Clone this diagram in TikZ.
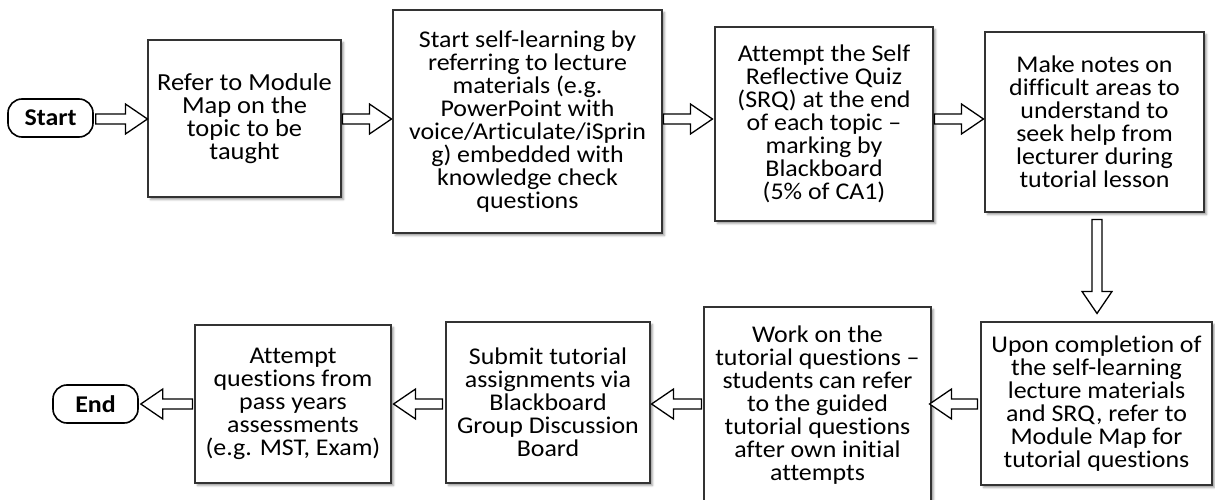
\documentclass[tikz,border=0pt]{standalone}
\usepackage{fontspec}
\setmainfont{Carlito}[FakeStretch=1.08,Ligatures={NoCommon}]
\usetikzlibrary{calc,shadows.blur}
\tikzset{
  box/.style={draw=black!80, line width=1.1pt, fill=white, align=center, inner sep=0pt,
    font=\fontsize{24}{23}\selectfont, text=black,
    blur shadow={shadow xshift=2.5pt, shadow yshift=-2.5pt, shadow blur radius=2pt, shadow opacity=40}},
  term/.style={draw=black, line width=1.6pt, rounded corners=14pt, fill=white, inner sep=0pt,
    font=\bfseries\fontsize{24}{24}\selectfont, minimum width=85pt, minimum height=38pt},
  barrow/.style={draw=black, line width=1.3pt, fill=white, line join=miter},
}
\newcommand\blockarr[2]{%
  \path ($(#2)!22pt!(#1)$) coordinate (h);
  \draw[barrow] ($(#1)!5pt!90:(#2)$) -- ($(h)!5pt!90:(#2)$) -- ($(h)!15pt!90:(#2)$) -- (#2)
    -- ($(h)!15pt!-90:(#2)$) -- ($(h)!5pt!-90:(#2)$) -- ($(#1)!5pt!-90:(#2)$) -- cycle;
}
\begin{document}
\begin{tikzpicture}[x=1pt,y=-1pt]
\useasboundingbox (0,0) rectangle (1215,500);
\coordinate (rowA) at (0,119);
\coordinate (rowB) at (0,404);
% top row
\node[term] (start) at (50.5,118) {Start};
\node[box, minimum width=193pt, minimum height=157pt, font=\fontsize{24.5}{23.2}\selectfont] (b1) at (244.5,118.5)
  {Refer to Module\\Map on the\\topic to be\\taught};
\node[box, minimum width=269pt, minimum height=223pt] (b2) at (527.5,121.5)
  {Start self-learning by\\referring to lecture\\materials (e.g.\\PowerPoint with\\voice/Articulate/iSprin\\g) embedded with\\knowledge check\\questions};
\node[box, minimum width=218pt, minimum height=194pt] (b3) at (824,124)
  {Attempt the Self\\Reflective Quiz\\(SRQ) at the end\\of each topic –\\marking by\\Blackboard\\(5\% of CA1)};
\node[box, minimum width=219pt, minimum height=180pt] (b4) at (1094.5,122)
  {Make notes on\\difficult areas to\\understand to\\seek help from\\lecturer during\\tutorial lesson};
% bottom row
\node[box, minimum width=231pt, minimum height=163pt] (b5) at (1096.5,403.5)
  {Upon completion of\\the self-learning\\lecture materials\\and SRQ, refer to\\Module Map for\\tutorial questions};
\node[box, minimum width=227pt, minimum height=196pt] (b6) at (817.5,405)
  {Work on the\\tutorial questions –\\students can refer\\to the guided\\tutorial questions\\after own initial\\attempts};
\node[box, minimum width=204pt, minimum height=161pt] (b7) at (548,402.5)
  {Submit tutorial\\assignments via\\Blackboard\\Group Discussion\\Board};
\node[box, minimum width=196pt, minimum height=158pt] (b8) at (293,404)
  {Attempt\\questions from\\pass years\\assessments\\(e.g. MST, Exam)};
\node[term] (end) at (95.5,404) {End};
% connector end points
\coordinate (a1s) at ($(start.east |- rowA)+(2,0)$);
\coordinate (a1e) at (b1.west |- rowA);
\coordinate (a2s) at ($(b1.east |- rowA)+(1,0)$);
\coordinate (a2e) at ($(b2.west |- rowA)+(-1,0)$);
\coordinate (a3s) at ($(b2.east |- rowA)+(1,0)$);
\coordinate (a3e) at ($(b3.west |- rowA)+(-2,0)$);
\coordinate (a4s) at ($(b3.east |- rowA)+(1,0)$);
\coordinate (a4e) at ($(b4.west |- rowA)+(-1,0)$);
\coordinate (a5s) at ($(b4.south)+(2.5,7)$);
\coordinate (a5e) at ($(b5.north)+(0.5,-8)$);
\coordinate (a6s) at ($(b5.west |- rowB)+(-3,0)$);
\coordinate (a6e) at ($(b6.east |- rowB)+(-2,0)$);
\coordinate (a7s) at ($(b6.west |- rowB)+(-2,0)$);
\coordinate (a7e) at ($(b7.east |- rowB)+(1,0)$);
\coordinate (a8s) at ($(b7.west |- rowB)+(-3,0)$);
\coordinate (a8e) at ($(b8.east |- rowB)+(2,0)$);
\coordinate (a9s) at ($(b8.west |- rowB)+(-2,0)$);
\coordinate (a9e) at ($(end.east |- rowB)+(2,0)$);
\blockarr{a1s}{a1e}
\blockarr{a2s}{a2e}
\blockarr{a3s}{a3e}
\blockarr{a4s}{a4e}
\blockarr{a5s}{a5e}
\blockarr{a6s}{a6e}
\blockarr{a7s}{a7e}
\blockarr{a8s}{a8e}
\blockarr{a9s}{a9e}
\end{tikzpicture}
\end{document}
